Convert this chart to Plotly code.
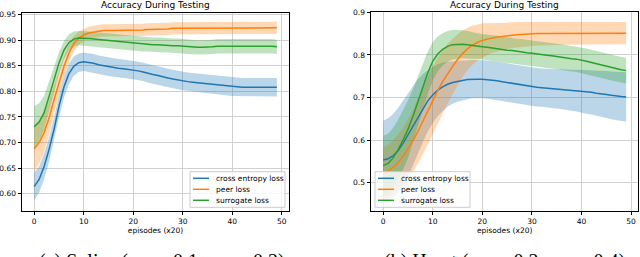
import plotly.graph_objects as go

# ---------------- data ----------------
episodes = list(range(50))

ce_splice = [0.614, 0.628, 0.653, 0.686, 0.725, 0.770, 0.808, 0.834, 0.849, 0.856,
             0.858, 0.857, 0.855, 0.852, 0.850, 0.848, 0.846, 0.845, 0.844, 0.843,
             0.842, 0.840, 0.838, 0.835, 0.833, 0.831, 0.828, 0.826, 0.824, 0.822,
             0.820, 0.819, 0.818, 0.817, 0.816, 0.815, 0.813, 0.812, 0.811, 0.810,
             0.809, 0.808, 0.808, 0.808, 0.808, 0.808, 0.808, 0.808, 0.808, 0.808]
ce_splice_sd = [0.027, 0.026, 0.025, 0.024, 0.023, 0.022, 0.021, 0.020, 0.019, 0.018,
                0.018, 0.018, 0.018, 0.018, 0.018, 0.018, 0.018, 0.018, 0.018, 0.018,
                0.018, 0.018, 0.018, 0.018, 0.018, 0.018, 0.018, 0.018, 0.018, 0.018,
                0.018, 0.018, 0.018, 0.018, 0.018, 0.018, 0.018, 0.018, 0.018, 0.018,
                0.018, 0.018, 0.018, 0.018, 0.018, 0.018, 0.018, 0.018, 0.018, 0.018]

peer_splice = [0.688, 0.700, 0.719, 0.748, 0.783, 0.817, 0.848, 0.874, 0.893, 0.904,
               0.910, 0.914, 0.916, 0.918, 0.919, 0.919, 0.919, 0.919, 0.919, 0.919,
               0.919, 0.920, 0.920, 0.921, 0.921, 0.922, 0.922, 0.922, 0.923, 0.923,
               0.923, 0.923, 0.923, 0.923, 0.923, 0.923, 0.923, 0.923, 0.923, 0.923,
               0.923, 0.924, 0.924, 0.924, 0.924, 0.924, 0.924, 0.924, 0.924, 0.924]
peer_splice_sd = [0.045, 0.042, 0.038, 0.033, 0.028, 0.024, 0.020, 0.017, 0.015, 0.013,
                  0.012, 0.012, 0.012, 0.012, 0.012, 0.012, 0.012, 0.012, 0.012, 0.012,
                  0.012, 0.012, 0.012, 0.012, 0.012, 0.012, 0.012, 0.012, 0.012, 0.012,
                  0.012, 0.012, 0.012, 0.012, 0.012, 0.012, 0.012, 0.012, 0.012, 0.012,
                  0.012, 0.012, 0.012, 0.012, 0.012, 0.012, 0.012, 0.012, 0.012, 0.012]

surr_splice = [0.731, 0.740, 0.758, 0.788, 0.822, 0.855, 0.880, 0.895, 0.902, 0.904,
               0.904, 0.903, 0.902, 0.901, 0.900, 0.899, 0.898, 0.897, 0.896, 0.895,
               0.894, 0.893, 0.892, 0.892, 0.891, 0.891, 0.890, 0.890, 0.889, 0.889,
               0.888, 0.887, 0.886, 0.886, 0.886, 0.886, 0.887, 0.888, 0.888, 0.889,
               0.889, 0.889, 0.889, 0.889, 0.889, 0.888, 0.888, 0.888, 0.888, 0.887]
surr_splice_sd = [0.040, 0.037, 0.033, 0.029, 0.025, 0.021, 0.018, 0.016, 0.015, 0.014,
                  0.014, 0.014, 0.014, 0.014, 0.014, 0.014, 0.014, 0.014, 0.014, 0.014,
                  0.014, 0.014, 0.014, 0.014, 0.014, 0.014, 0.014, 0.014, 0.014, 0.014,
                  0.014, 0.014, 0.014, 0.014, 0.014, 0.014, 0.014, 0.014, 0.014, 0.014,
                  0.014, 0.014, 0.014, 0.014, 0.014, 0.014, 0.014, 0.014, 0.014, 0.014]

ce_heart = [0.553, 0.556, 0.563, 0.575, 0.592, 0.612, 0.633, 0.655, 0.675, 0.692,
            0.706, 0.717, 0.725, 0.731, 0.735, 0.738, 0.740, 0.742, 0.743, 0.743,
            0.743, 0.742, 0.741, 0.739, 0.737, 0.735, 0.733, 0.731, 0.729, 0.727,
            0.725, 0.724, 0.723, 0.722, 0.721, 0.720, 0.719, 0.718, 0.717, 0.716,
            0.715, 0.713, 0.712, 0.710, 0.709, 0.707, 0.705, 0.703, 0.702, 0.701]
ce_heart_sd = [0.092, 0.095, 0.098, 0.100, 0.100, 0.098, 0.094, 0.088, 0.080, 0.072,
               0.066, 0.061, 0.057, 0.053, 0.050, 0.048, 0.047, 0.046, 0.045, 0.045,
               0.045, 0.045, 0.045, 0.045, 0.045, 0.045, 0.045, 0.045, 0.045, 0.045,
               0.045, 0.045, 0.045, 0.045, 0.046, 0.046, 0.047, 0.047, 0.048, 0.049,
               0.050, 0.051, 0.052, 0.053, 0.054, 0.055, 0.056, 0.057, 0.057, 0.058]

peer_heart = [0.523, 0.527, 0.536, 0.547, 0.561, 0.578, 0.598, 0.620, 0.644, 0.669,
              0.694, 0.716, 0.737, 0.756, 0.773, 0.789, 0.803, 0.814, 0.823, 0.829,
              0.834, 0.837, 0.840, 0.842, 0.843, 0.845, 0.846, 0.847, 0.848, 0.849,
              0.849, 0.850, 0.850, 0.850, 0.850, 0.850, 0.851, 0.851, 0.851, 0.851,
              0.851, 0.851, 0.851, 0.851, 0.851, 0.851, 0.851, 0.851, 0.851, 0.851]
peer_heart_sd = [0.060, 0.062, 0.064, 0.066, 0.068, 0.070, 0.073, 0.076, 0.078, 0.080,
                 0.080, 0.078, 0.074, 0.070, 0.065, 0.060, 0.055, 0.050, 0.046, 0.042,
                 0.040, 0.037, 0.035, 0.033, 0.032, 0.031, 0.030, 0.030, 0.029, 0.029,
                 0.028, 0.028, 0.028, 0.028, 0.027, 0.027, 0.027, 0.027, 0.027, 0.027,
                 0.026, 0.026, 0.026, 0.026, 0.026, 0.026, 0.026, 0.026, 0.026, 0.026]

surr_heart = [0.540, 0.545, 0.558, 0.577, 0.600, 0.625, 0.655, 0.690, 0.725, 0.758,
              0.785, 0.802, 0.813, 0.820, 0.824, 0.825, 0.825, 0.824, 0.822, 0.821,
              0.819, 0.818, 0.816, 0.815, 0.813, 0.811, 0.810, 0.808, 0.807, 0.805,
              0.804, 0.802, 0.801, 0.799, 0.798, 0.796, 0.795, 0.793, 0.791, 0.790,
              0.788, 0.785, 0.782, 0.779, 0.776, 0.773, 0.770, 0.767, 0.765, 0.763]
surr_heart_sd = [0.070, 0.070, 0.070, 0.070, 0.070, 0.068, 0.065, 0.060, 0.055, 0.050,
                 0.045, 0.041, 0.038, 0.036, 0.035, 0.034, 0.033, 0.032, 0.031, 0.030,
                 0.030, 0.030, 0.030, 0.030, 0.030, 0.030, 0.030, 0.030, 0.030, 0.030,
                 0.030, 0.030, 0.030, 0.030, 0.030, 0.030, 0.030, 0.030, 0.030, 0.030,
                 0.030, 0.030, 0.030, 0.030, 0.030, 0.030, 0.030, 0.030, 0.030, 0.030]

series_names = ["cross entropy loss", "peer loss", "surrogate loss"]
colors = ["#1f77b4", "#ff7f0e", "#2ca02c"]
fills = ["rgba(31,119,180,0.3)", "rgba(255,127,14,0.3)", "rgba(44,160,44,0.3)"]

panels = [
    dict(series=[(ce_splice, ce_splice_sd), (peer_splice, peer_splice_sd), (surr_splice, surr_splice_sd)],
         yticks=[0.60, 0.65, 0.70, 0.75, 0.80, 0.85, 0.90, 0.95], fmt=".2f", yrange=[0.567, 0.953],
         caption="(a) Splice (e<sub>−1</sub> = 0.1, e<sub>+1</sub> = 0.2)"),
    dict(series=[(ce_heart, ce_heart_sd), (peer_heart, peer_heart_sd), (surr_heart, surr_heart_sd)],
         yticks=[0.5, 0.6, 0.7, 0.8, 0.9], fmt=".1f", yrange=[0.434, 0.9],
         caption="(b) Heart (e<sub>−1</sub> = 0.2, e<sub>+1</sub> = 0.4)"),
]

W, H = 640, 257
def px(x):
    return x / W
def py(y):
    return 1 - y / H

# layout geometry (pixels)
xdom = [(22, 289), (371, 638.3)]
ydom = [(13, 210.7), (12.3, 210.7)]
legend_box = [(190, 171.7, 285, 207.3), (375, 171.7, 470, 207.3)]

fig = go.Figure()
shapes = []
annotations = []
FONT = "DejaVu Sans"

for i, p in enumerate(panels):
    xa = "x" if i == 0 else "x2"
    ya = "y" if i == 0 else "y2"
    for (mean, sd), name, c, fc in zip(p["series"], series_names, colors, fills):
        upper = [m + s for m, s in zip(mean, sd)]
        lower = [m - s for m, s in zip(mean, sd)]
        fig.add_trace(go.Scatter(
            x=episodes + episodes[::-1], y=upper + lower[::-1],
            fill="toself", fillcolor=fc, line=dict(width=0), mode="lines",
            hoverinfo="skip", showlegend=False, xaxis=xa, yaxis=ya))
    for (mean, sd), name, c in zip(p["series"], series_names, colors):
        fig.add_trace(go.Scatter(
            x=episodes, y=mean, mode="lines", name=name,
            line=dict(color=c, width=1.5), showlegend=False, xaxis=xa, yaxis=ya))

    axis_common = dict(showline=True, linecolor="black", linewidth=1, mirror=True,
                       ticks="outside", ticklen=3.5, tickwidth=1, tickcolor="black",
                       showgrid=True, gridcolor="#d0d0d0", gridwidth=1, zeroline=False,
                       automargin=False,
                       tickfont=dict(family=FONT, size=7.5, color="black"))
    x0, x1 = xdom[i]
    y0, y1 = ydom[i]
    xkey = "xaxis" if i == 0 else "xaxis2"
    ykey = "yaxis" if i == 0 else "yaxis2"
    fig.update_layout(**{
        xkey: dict(domain=[px(x0), px(x1)], range=[-2.45, 51.45],
                   tickvals=[0, 10, 20, 30, 40, 50], anchor=ya,
                   title=dict(text="episodes (x20)", font=dict(family=FONT, size=7.5, color="black"), standoff=2),
                   **axis_common),
        ykey: dict(domain=[py(y1), py(y0)], range=p["yrange"], tickvals=p["yticks"],
                   tickformat=p["fmt"], anchor=xa, **axis_common),
    })
    # title
    annotations.append(dict(text="Accuracy During Testing", x=px((x0 + x1) / 2), y=py(5),
                            xref="paper", yref="paper", showarrow=False,
                            font=dict(family=FONT, size=9, color="black"),
                            xanchor="center", yanchor="middle"))
    # caption (only its top is visible in the reference)
    annotations.append(dict(text=p["caption"], x=px((x0 + x1) / 2 + (6 if i == 0 else 0)), y=py(248.3),
                            xref="paper", yref="paper", showarrow=False,
                            font=dict(family="Liberation Serif", size=20, color="black"),
                            xanchor="center", yanchor="top"))
    # legend
    bx0, by0, bx1, by1 = legend_box[i]
    shapes.append(dict(type="rect", xref="paper", yref="paper",
                       x0=px(bx0), x1=px(bx1), y0=py(by1), y1=py(by0),
                       line=dict(color="#cccccc", width=1), fillcolor="rgba(255,255,255,0.8)",
                       layer="above"))
    for k, (name, c) in enumerate(zip(series_names, colors)):
        yy = by0 + 6.6 + 11 * k
        shapes.append(dict(type="line", xref="paper", yref="paper",
                           x0=px(bx0 + 3), x1=px(bx0 + 19), y0=py(yy), y1=py(yy),
                           line=dict(color=c, width=1.5), layer="above"))
        annotations.append(dict(text=name, x=px(bx0 + 24), y=py(yy), xref="paper", yref="paper",
                                showarrow=False, xanchor="left", yanchor="middle",
                                font=dict(family=FONT, size=7.5, color="black")))

fig.update_layout(width=W, height=H, margin=dict(l=0, r=0, t=0, b=0, autoexpand=False),
                  paper_bgcolor="white", plot_bgcolor="white",
                  shapes=shapes, annotations=annotations, showlegend=False)

fig.write_html("out.html", config={"displayModeBar": False},
               post_script="document.body.style.margin='0';document.body.style.overflow='hidden';")
